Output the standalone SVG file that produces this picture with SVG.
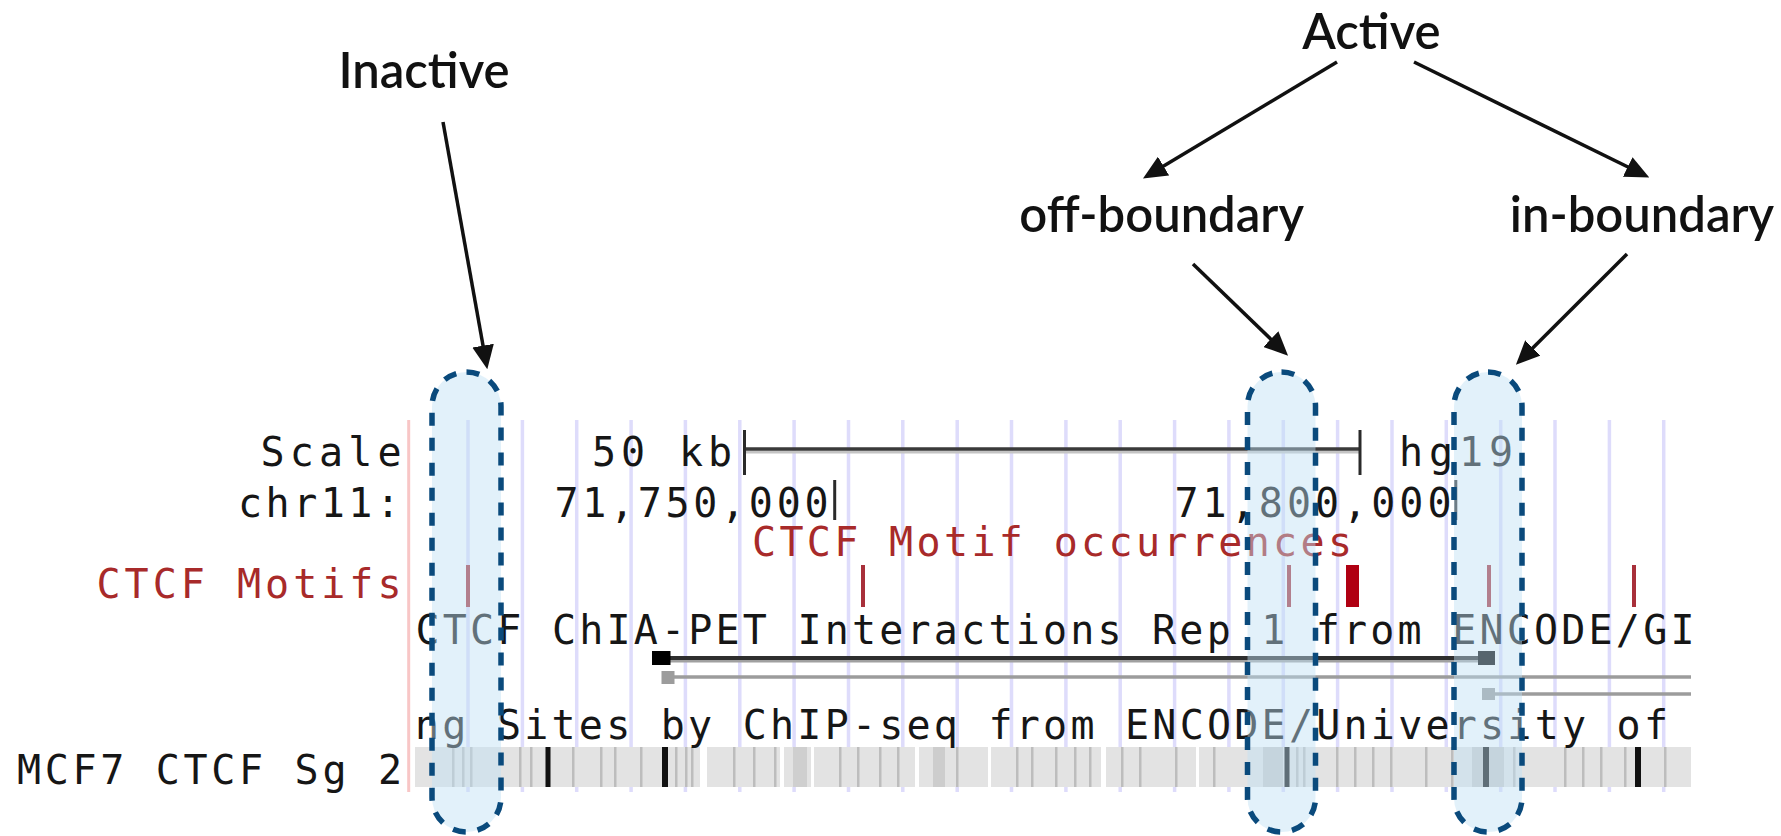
<svg xmlns="http://www.w3.org/2000/svg" width="1781" height="836" viewBox="0 0 1781 836">
  <style>
    .mono { font-family: "DejaVu Sans Mono", "Liberation Mono", monospace; font-size: 40px; fill: #161616; }
    .red { fill: #a82a2a; }
    .label { font-family: Lato, "Open Sans", "Liberation Sans", sans-serif; font-size: 49px; font-weight: 600; fill: #111; text-anchor: middle; }
    .grid { stroke: #dedcfb; stroke-width: 3.5; }
    .motif { fill: #a8303a; }
    .stripe { fill: #bdbdbd; }
    .hit { fill: #111; }
    .gap { fill: #ffffff; }
    .region { fill: #bfe0f5; fill-opacity: 0.45; stroke: #0a4a7c; stroke-width: 5.5; stroke-dasharray: 13 12; }
    .arrow { stroke: #111; stroke-width: 3.5; fill: none; marker-end: url(#head); }
  </style>
  <defs>
    <marker id="head" markerUnits="userSpaceOnUse" markerWidth="24" markerHeight="22" viewBox="0 0 22 20" refX="7" refY="10" orient="auto">
      <path d="M0,0 L22,10 L0,20 z" fill="#111"/>
    </marker>
  </defs>
  <rect width="1781" height="836" fill="#ffffff"/>

  <!-- genome browser track -->
  <g id="track">
    <!-- vertical guide lines -->
    <g id="guides">
      <line x1="408.7" y1="420" x2="408.7" y2="792" stroke="#f8c6c6" stroke-width="3"/>
      <line class="grid" x1="468" y1="420" x2="468" y2="792"/>
      <line class="grid" x1="522.4" y1="420" x2="522.4" y2="792"/>
      <line class="grid" x1="576.7" y1="420" x2="576.7" y2="792"/>
      <line class="grid" x1="631.1" y1="420" x2="631.1" y2="792"/>
      <line class="grid" x1="685.4" y1="420" x2="685.4" y2="792"/>
      <line class="grid" x1="739.8" y1="420" x2="739.8" y2="792"/>
      <line class="grid" x1="794.1" y1="420" x2="794.1" y2="792"/>
      <line class="grid" x1="848.5" y1="420" x2="848.5" y2="792"/>
      <line class="grid" x1="902.8" y1="420" x2="902.8" y2="792"/>
      <line class="grid" x1="957.2" y1="420" x2="957.2" y2="792"/>
      <line class="grid" x1="1011.5" y1="420" x2="1011.5" y2="792"/>
      <line class="grid" x1="1065.9" y1="420" x2="1065.9" y2="792"/>
      <line class="grid" x1="1120.2" y1="420" x2="1120.2" y2="792"/>
      <line class="grid" x1="1174.6" y1="420" x2="1174.6" y2="792"/>
      <line class="grid" x1="1228.9" y1="420" x2="1228.9" y2="792"/>
      <line class="grid" x1="1283.3" y1="420" x2="1283.3" y2="792"/>
      <line class="grid" x1="1337.6" y1="420" x2="1337.6" y2="792"/>
      <line class="grid" x1="1392" y1="420" x2="1392" y2="792"/>
      <line class="grid" x1="1446.3" y1="420" x2="1446.3" y2="792"/>
      <line class="grid" x1="1500.7" y1="420" x2="1500.7" y2="792"/>
      <line class="grid" x1="1555" y1="420" x2="1555" y2="792"/>
      <line class="grid" x1="1609.4" y1="420" x2="1609.4" y2="792"/>
      <line class="grid" x1="1663.7" y1="420" x2="1663.7" y2="792"/>
    </g>

    <!-- row labels -->
    <text class="mono" x="260.5" y="466" textLength="141" lengthAdjust="spacing">Scale</text>
    <text class="mono" x="238" y="517" textLength="162" lengthAdjust="spacing">chr11:</text>
    <text class="mono red" x="96.5" y="598" textLength="305" lengthAdjust="spacing">CTCF Motifs</text>
    <text class="mono" x="17" y="784" textLength="385" lengthAdjust="spacing">MCF7 CTCF Sg 2</text>

    <!-- scale bar -->
    <text class="mono" x="592" y="466" textLength="140" lengthAdjust="spacing">50 kb</text>
    <line x1="744.5" y1="452" x2="1360" y2="452" stroke="#c4c4c4" stroke-width="3"/>
    <line x1="744.5" y1="449" x2="1360" y2="449" stroke="#3a3a3a" stroke-width="3.5"/>
    <line x1="744.5" y1="430" x2="744.5" y2="475" stroke="#2a2a2a" stroke-width="3"/>
    <line x1="1360" y1="430" x2="1360" y2="475" stroke="#2a2a2a" stroke-width="3"/>
    <text class="mono" x="1399" y="466" textLength="114" lengthAdjust="spacing">hg19</text>

    <!-- coordinates -->
    <text class="mono" x="554.5" y="517" textLength="274" lengthAdjust="spacing">71,750,000</text>
    <line x1="834.7" y1="480" x2="834.7" y2="520" stroke="#2a2a2a" stroke-width="3"/>
    <text class="mono" x="1174.5" y="517" textLength="277" lengthAdjust="spacing">71,800,000</text>
    <line x1="1455.8" y1="480" x2="1455.8" y2="520" stroke="#2a2a2a" stroke-width="3"/>

    <!-- motif track -->
    <text class="mono red" x="752" y="556" textLength="600" lengthAdjust="spacing">CTCF Motif occurrences</text>
    <rect class="motif" x="466" y="565" width="4" height="42"/>
    <rect class="motif" x="861" y="565" width="4" height="42"/>
    <rect class="motif" x="1287" y="565" width="4" height="42"/>
    <rect x="1346" y="565" width="13" height="42" fill="#b00012"/>
    <rect class="motif" x="1487" y="565" width="4" height="42"/>
    <rect class="motif" x="1632" y="565" width="4" height="42"/>

    <!-- interaction track -->
    <text class="mono" x="415.5" y="644" textLength="1279" lengthAdjust="spacing">CTCF ChIA-PET Interactions Rep 1 from ENCODE/GI</text>
    <line x1="660" y1="659.5" x2="1487" y2="659.5" stroke="#a0a0a0" stroke-width="6"/>
    <line x1="660" y1="658" x2="1487" y2="658" stroke="#2e2e2e" stroke-width="4"/>
    <rect x="652" y="651" width="18.5" height="14" fill="#000"/>
    <rect x="1478" y="651" width="17" height="14" fill="#000"/>
    <line x1="668" y1="677" x2="1691" y2="677" stroke="#9c9c9c" stroke-width="3.5"/>
    <rect x="661.5" y="671" width="13" height="13" fill="#9c9c9c"/>
    <line x1="1490" y1="694" x2="1691" y2="694" stroke="#9c9c9c" stroke-width="3.5"/>
    <rect x="1482" y="688" width="13" height="12" fill="#9c9c9c"/>

    <!-- binding-site density track -->
    <rect x="415" y="747" width="1276" height="40" fill="#e3e3e3"/>
    <g id="density">
      <rect class="gap" x="700" y="747" width="7" height="40"/>
      <rect class="gap" x="780" y="747" width="4" height="40"/>
      <rect class="gap" x="811" y="747" width="3" height="40"/>
      <rect class="gap" x="915" y="747" width="4" height="40"/>
      <rect class="gap" x="988" y="747" width="3" height="40"/>
      <rect class="gap" x="1101" y="747" width="5" height="40"/>
      <rect class="gap" x="1196" y="747" width="3" height="40"/>
      <rect class="stripe" x="452" y="747" width="2.5" height="40"/>
      <rect class="stripe" x="462" y="747" width="2.5" height="40"/>
      <rect class="stripe" x="470" y="747" width="2.5" height="40"/>
      <rect class="stripe" x="519" y="747" width="2.5" height="40"/>
      <rect class="stripe" x="530" y="747" width="2.5" height="40"/>
      <rect class="stripe" x="572" y="747" width="2.5" height="40"/>
      <rect class="stripe" x="600" y="747" width="2.5" height="40"/>
      <rect class="stripe" x="614" y="747" width="2.5" height="40"/>
      <rect class="stripe" x="640" y="747" width="2.5" height="40"/>
      <rect class="stripe" x="675" y="747" width="2.5" height="40"/>
      <rect class="stripe" x="685" y="747" width="2.5" height="40"/>
      <rect class="stripe" x="691" y="747" width="2.5" height="40"/>
      <rect class="stripe" x="733" y="747" width="2.5" height="40"/>
      <rect class="stripe" x="753" y="747" width="2.5" height="40"/>
      <rect class="stripe" x="774" y="747" width="2.5" height="40"/>
      <rect x="793" y="747" width="14" height="40" fill="#cfcfcf"/>
      <rect class="stripe" x="839" y="747" width="2.5" height="40"/>
      <rect class="stripe" x="857" y="747" width="2.5" height="40"/>
      <rect class="stripe" x="879" y="747" width="2.5" height="40"/>
      <rect class="stripe" x="897" y="747" width="2.5" height="40"/>
      <rect x="933" y="747" width="12" height="40" fill="#cdcdcd"/>
      <rect class="stripe" x="956" y="747" width="2.5" height="40"/>
      <rect class="stripe" x="1016" y="747" width="2.5" height="40"/>
      <rect class="stripe" x="1031" y="747" width="2.5" height="40"/>
      <rect class="stripe" x="1055" y="747" width="2.5" height="40"/>
      <rect class="stripe" x="1074" y="747" width="2.5" height="40"/>
      <rect class="stripe" x="1089" y="747" width="2.5" height="40"/>
      <rect class="stripe" x="1121" y="747" width="2.5" height="40"/>
      <rect class="stripe" x="1139" y="747" width="2.5" height="40"/>
      <rect class="stripe" x="1175" y="747" width="2.5" height="40"/>
      <rect class="stripe" x="1213" y="747" width="2.5" height="40"/>
      <rect x="1263" y="747" width="20" height="40" fill="#cacaca"/>
      <rect class="stripe" x="1296" y="747" width="2.5" height="40"/>
      <rect class="stripe" x="1303" y="747" width="2.5" height="40"/>
      <rect class="stripe" x="1336" y="747" width="2.5" height="40"/>
      <rect class="stripe" x="1354" y="747" width="2.5" height="40"/>
      <rect class="stripe" x="1372" y="747" width="2.5" height="40"/>
      <rect class="stripe" x="1390" y="747" width="2.5" height="40"/>
      <rect class="stripe" x="1425" y="747" width="2.5" height="40"/>
      <rect class="stripe" x="1451" y="747" width="2.5" height="40"/>
      <rect x="1472" y="747" width="32" height="40" fill="#cacaca"/>
      <rect class="stripe" x="1513" y="747" width="2.5" height="40"/>
      <rect class="stripe" x="1564" y="747" width="2.5" height="40"/>
      <rect class="stripe" x="1582" y="747" width="2.5" height="40"/>
      <rect class="stripe" x="1600" y="747" width="2.5" height="40"/>
      <rect class="stripe" x="1624" y="747" width="2.5" height="40"/>
      <rect class="stripe" x="1664" y="747" width="2.5" height="40"/>
      <rect class="hit" x="545.5" y="747" width="5" height="40"/>
      <rect class="hit" x="662" y="747" width="6" height="40"/>
      <rect class="hit" x="1284.5" y="747" width="5" height="40"/>
      <rect class="hit" x="1483" y="747" width="6" height="40"/>
      <rect class="hit" x="1635" y="747" width="6" height="40"/>
    </g>
    <text class="mono" x="415" y="739" textLength="1253" lengthAdjust="spacing">ng Sites by ChIP-seq from ENCODE/University of</text>
  </g>

  <!-- highlighted sites -->
  <g id="site-inactive">
    <rect class="region" x="432" y="372" width="69" height="460" rx="34.5"/>
  </g>
  <g id="site-off-boundary">
    <rect class="region" x="1247.5" y="372" width="68" height="460" rx="34"/>
  </g>
  <g id="site-in-boundary">
    <rect class="region" x="1454" y="372" width="68" height="460" rx="34"/>
  </g>

  <!-- category labels -->
  <g id="label-inactive"><text class="label" x="424" y="88">Inactive</text></g>
  <g id="label-active"><text class="label" x="1371.5" y="49">Active</text></g>
  <g id="label-off-boundary"><text class="label" x="1161.7" y="232">off-boundary</text></g>
  <g id="label-in-boundary"><text class="label" x="1642" y="232">in-boundary</text></g>

  <!-- connectors -->
  <g id="connectors">
    <line class="arrow" x1="443" y1="122" x2="484.4" y2="353.2"/>
    <line class="arrow" x1="1337" y1="62" x2="1157" y2="170"/>
    <line class="arrow" x1="1414" y1="62" x2="1634.6" y2="170.3"/>
    <line class="arrow" x1="1193" y1="264" x2="1276.3" y2="344.4"/>
    <line class="arrow" x1="1627" y1="254" x2="1527.5" y2="353.3"/>
  </g>
</svg>
